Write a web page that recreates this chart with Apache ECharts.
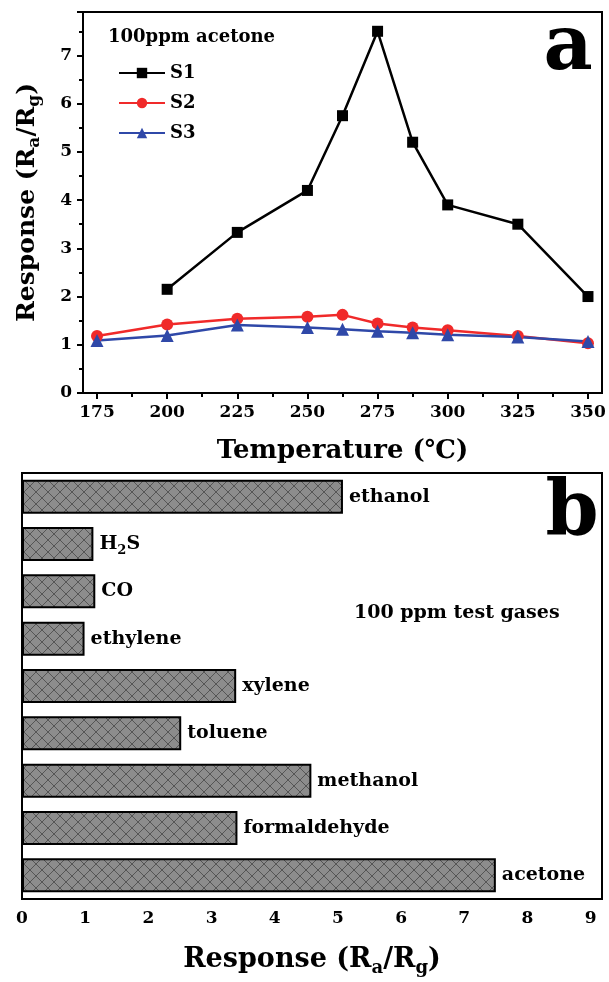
<!DOCTYPE html>
<html><head><meta charset="utf-8">
<script src="https://cdn.jsdelivr.net/npm/echarts@6/dist/echarts.min.js"></script>
<style>html,body{margin:0;padding:0;background:#fff}#c{width:609px;height:982px}</style>
</head><body><div id="c"></div>
<script>
// ---- data ----
const s1Temps = [200, 225, 250, 262.5, 275, 287.5, 300, 325, 350];
const s1Values = [2.15, 3.33, 4.2, 5.75, 7.5, 5.2, 3.9, 3.5, 2.0];
const s23Temps = [175, 200, 225, 250, 262.5, 275, 287.5, 300, 325, 350];
const s2Values = [1.18, 1.42, 1.54, 1.58, 1.62, 1.44, 1.36, 1.30, 1.18, 1.03];
const s3Values = [1.09, 1.19, 1.41, 1.36, 1.32, 1.28, 1.25, 1.21, 1.16, 1.07];
const tempTicks = [175, 200, 225, 250, 275, 300, 325, 350];
const tempMinorTicks = [187.5, 212.5, 237.5, 262.5, 287.5, 312.5, 337.5];
const gases = ['ethanol', 'H2S', 'CO', 'ethylene', 'xylene', 'toluene', 'methanol', 'formaldehyde', 'acetone'];
const gasResponse = [5.08, 1.13, 1.16, 0.99, 3.39, 2.52, 4.58, 3.41, 7.5];

const FONT = '"DejaVu Serif","Liberation Serif",serif';

function zip(xs, ys) { return xs.map((x, i) => [x, ys[i]]); }

// cross-hatch pattern
const pc = document.createElement('canvas');
pc.width = 12; pc.height = 12;
const g = pc.getContext('2d');
g.fillStyle = '#8c8c8c'; g.fillRect(0, 0, 12, 12);
g.strokeStyle = '#555555'; g.lineWidth = 1;
g.beginPath();
g.moveTo(0, 0); g.lineTo(12, 12);
g.moveTo(12, 0); g.lineTo(0, 12);
g.stroke();

function titleRich(size) {
  return {
    b: { fontFamily: FONT, fontWeight: 'bold', fontSize: size, color: '#000', lineHeight: size + 7 },
    s: { fontFamily: FONT, fontWeight: 'bold', fontSize: Math.round(size * 0.68), color: '#000', lineHeight: Math.round(size * 0.7), verticalAlign: 'bottom' }
  };
}
const respName = '{b|Response (R}{s|a}{b|/R}{s|g}{b|)}';
const tickFont = { fontFamily: FONT, fontWeight: 'bold', fontSize: 17, color: '#000' };

const chart = echarts.init(document.getElementById('c'));
chart.setOption({
  animation: false,
  backgroundColor: '#fff',
  grid: [
    { left: 83, right: 7, top: 12, bottom: 589, show: true, borderColor: '#000', borderWidth: 2 },
    { left: 22, right: 7, top: 473, bottom: 83, show: true, borderColor: '#000', borderWidth: 2 }
  ],
  xAxis: [
    {
      type: 'value', gridIndex: 0, min: 170, max: 355, position: 'bottom',
      axisLine: { lineStyle: { color: '#000', width: 2 } },
      axisTick: { customValues: tempTicks, length: 6, lineStyle: { color: '#000', width: 2 } },
      axisLabel: Object.assign({ customValues: tempTicks, margin: 11 }, tickFont),
      splitLine: { show: false },
      name: 'Temperature (\u2103)', nameLocation: 'middle', nameGap: 45,
      nameTextStyle: { fontFamily: FONT, fontWeight: 'bold', fontSize: 26, color: '#000' }
    },
    {
      type: 'value', gridIndex: 0, min: 170, max: 355, position: 'bottom',
      axisLine: { show: false },
      axisTick: { customValues: tempMinorTicks, length: 4, lineStyle: { color: '#000', width: 2 } },
      axisLabel: { show: false },
      splitLine: { show: false }
    },
    {
      type: 'value', gridIndex: 1, min: 0, max: 9.18, interval: 1,
      axisLine: { lineStyle: { color: '#000', width: 2 } },
      axisTick: { length: 6, lineStyle: { color: '#000', width: 2 } },
      axisLabel: Object.assign({ margin: 11, showMaxLabel: false }, tickFont),
      splitLine: { show: false },
      name: respName, nameLocation: 'middle', nameGap: 44,
      nameTextStyle: { rich: titleRich(27) }
    }
  ],
  yAxis: [
    {
      type: 'value', gridIndex: 0, min: 0, max: 7.9, interval: 1,
      axisLine: { show: true, lineStyle: { color: '#000', width: 2 } },
      axisTick: { show: true, length: 6, lineStyle: { color: '#000', width: 2 } },
      minorTick: { show: true, splitNumber: 2, length: 4, lineStyle: { color: '#000', width: 2 } },
      axisLabel: Object.assign({ margin: 11, showMaxLabel: false }, tickFont),
      splitLine: { show: false },
      name: respName, nameLocation: 'middle', nameGap: 40, nameRotate: 90,
      nameTextStyle: { rich: titleRich(25) }
    },
    {
      type: 'category', gridIndex: 1, data: gases, inverse: true,
      axisLine: { show: false }, axisTick: { show: false }, axisLabel: { show: false }
    }
  ],
  legend: {
    data: ['S1', 'S2', 'S3'], orient: 'vertical', left: 113, top: 59,
    itemWidth: 46, itemHeight: 13, itemGap: 12,
    textStyle: { fontFamily: FONT, fontWeight: 'bold', fontSize: 18, color: '#000' }
  },
  graphic: [
    { type: 'text', left: 108, top: 28, style: { text: '100ppm acetone', fontFamily: FONT, fontWeight: 'bold', fontSize: 18, fill: '#000' } },
    { type: 'text', x: 568, y: 49, style: { text: 'a', align: 'center', verticalAlign: 'middle', fontFamily: FONT, fontWeight: 'bold', fontSize: 76, fill: '#000' } },
    { type: 'text', x: 572, y: 514, style: { text: 'b', align: 'center', verticalAlign: 'middle', fontFamily: FONT, fontWeight: 'bold', fontSize: 76, fill: '#000' } },
    { type: 'text', left: 354, top: 604, style: { text: '100 ppm test gases', fontFamily: FONT, fontWeight: 'bold', fontSize: 19, fill: '#000' } }
  ],
  series: [
    {
      name: 'S1', type: 'line', xAxisIndex: 0, yAxisIndex: 0, data: zip(s1Temps, s1Values),
      symbol: 'rect', symbolSize: 11, color: '#000',
      lineStyle: { color: '#000', width: 2.5 }, itemStyle: { color: '#000' }
    },
    {
      name: 'S2', type: 'line', xAxisIndex: 0, yAxisIndex: 0, data: zip(s23Temps, s2Values),
      symbol: 'circle', symbolSize: 12, color: '#f02a2a',
      lineStyle: { color: '#f02a2a', width: 2.5 }, itemStyle: { color: '#f02a2a' }
    },
    {
      name: 'S3', type: 'line', xAxisIndex: 0, yAxisIndex: 0, data: zip(s23Temps, s3Values),
      symbol: 'triangle', symbolSize: 13, color: '#2f48a8',
      lineStyle: { color: '#2f48a8', width: 2.5 }, itemStyle: { color: '#2f48a8' }
    },
    {
      name: 'gas', type: 'bar', xAxisIndex: 2, yAxisIndex: 1, data: gasResponse,
      barCategoryGap: '28%',
      itemStyle: { color: { image: pc, repeat: 'repeat' }, borderColor: '#000', borderWidth: 2 },
      label: {
        show: true, position: 'right', distance: 6,
        formatter: p => p.name === 'H2S' ? '{t|H}{s|2}{t|S}' : '{t|' + p.name + '}',
        rich: {
          t: { fontFamily: FONT, fontWeight: 'bold', fontSize: 19, color: '#000', lineHeight: 26 },
          s: { fontFamily: FONT, fontWeight: 'bold', fontSize: 13, color: '#000', lineHeight: 14, verticalAlign: 'bottom' }
        }
      }
    }
  ]
});
</script>
</body></html>
